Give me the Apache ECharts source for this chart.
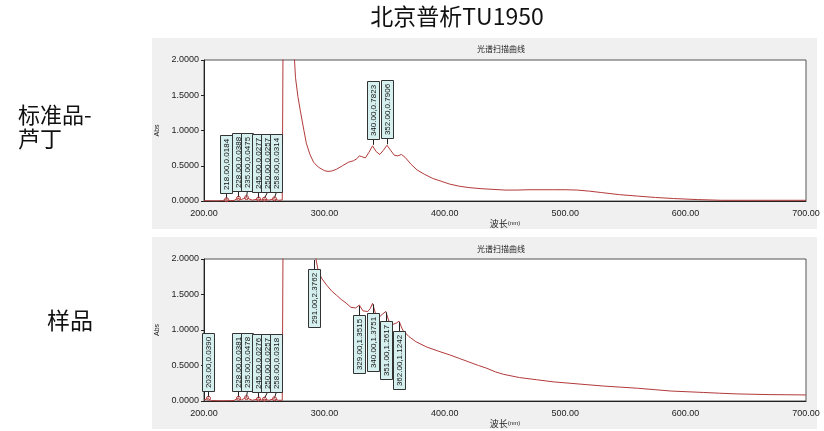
<!DOCTYPE html>
<html>
<head>
<meta charset="utf-8">
<script src="https://cdn.jsdelivr.net/npm/echarts@6/dist/echarts.min.js"></script>
<style>
  html, body { margin: 0; padding: 0; background: #fff; }
  #main { width: 824px; height: 431px; }
</style>
</head>
<body>
<div id="main"></div>
<script>
// standard (rutin) scan: wavelength (nm) / Abs
const stdX = [200, 210, 215, 218, 222, 225, 228, 231, 235, 240, 245, 248, 250, 254, 258, 262, 265,
  266, 272, 274.5, 276, 278, 280, 283, 285, 288, 291, 295, 300, 303, 306, 310, 315, 320, 324, 327,
  329, 331, 334, 337, 340, 343, 346, 349, 352, 355, 358, 361, 364, 367, 372, 377, 383, 390, 397,
  404, 412, 420, 430, 440, 450, 460, 470, 480, 490, 500, 510, 520, 530, 545, 560, 575, 590, 610,
  630, 650, 670, 700]
const stdY = [0.004, 0.002, 0.004, 0.0184, 0.006, 0.008, 0.0388, 0.02, 0.0475, 0.012, 0.0277, 0.014, 0.0257, 0.012, 0.0314, 0.01, 0.015,
  3.5, 3.2, 2.2, 1.75, 1.48, 1.28, 1.0, 0.82, 0.66, 0.55, 0.48, 0.43, 0.42, 0.425, 0.45, 0.5, 0.55, 0.57, 0.6,
  0.64, 0.63, 0.61, 0.69, 0.7823, 0.7, 0.66, 0.72, 0.7906, 0.72, 0.65, 0.64, 0.66, 0.62, 0.52, 0.44, 0.38, 0.32, 0.28,
  0.24, 0.21, 0.19, 0.175, 0.165, 0.155, 0.155, 0.16, 0.16, 0.16, 0.16, 0.155, 0.14, 0.12, 0.09, 0.07, 0.05, 0.035, 0.02,
  0.01, 0.01, 0.01, 0.01]

// sample scan
const sampleX = [200, 203, 206, 215, 222, 225, 228, 231, 235, 240, 245, 248, 250, 254, 258, 262, 265,
  266, 280, 291, 293, 295, 298, 302, 306, 310, 314, 318, 322, 326, 329, 332, 336, 338, 340, 343, 346,
  348, 351, 354, 357, 360, 362, 365, 370, 376, 385, 395, 404, 412, 420, 428, 435, 442, 449, 462, 476,
  490, 504, 518, 532, 546, 560, 574, 588, 602, 615, 628, 642, 656, 670, 685, 700]
const sampleY = [0.01, 0.039, 0.006, 0.003, 0.005, 0.008, 0.0381, 0.015, 0.0478, 0.01, 0.0276, 0.012, 0.0257, 0.01, 0.0318, 0.01, 0.01,
  3.5, 2.8, 2.3762, 2.0, 1.82, 1.72, 1.63, 1.55, 1.49, 1.43, 1.38, 1.32, 1.31, 1.3515, 1.27, 1.26, 1.3, 1.3751, 1.2, 1.19,
  1.22, 1.2617, 1.1, 1.08, 1.1, 1.1242, 1.0, 0.91, 0.835, 0.76, 0.7, 0.65, 0.6, 0.55, 0.5, 0.46, 0.41, 0.375, 0.33, 0.3,
  0.27, 0.25, 0.23, 0.21, 0.195, 0.18, 0.16, 0.14, 0.13, 0.12, 0.11, 0.1, 0.095, 0.09, 0.088, 0.085]

// peak annotations
const stdPeakX = [218, 228, 235, 245, 250, 258, 340, 352]
const stdPeakY = [0.0184, 0.0388, 0.0475, 0.0277, 0.0257, 0.0314, 0.7823, 0.7906]
const samplePeakX = [203, 228, 235, 245, 250, 258, 291, 329, 340, 351, 362]
const samplePeakY = [0.039, 0.0381, 0.0478, 0.0276, 0.0257, 0.0318, 2.3762, 1.3515, 1.3751, 1.2617, 1.1242]

const pairs = (xs, ys) => xs.map((x, i) => [x, ys[i]])

const lineColor = '#b23a3a'
const smallFont = '"Liberation Sans", Arial, sans-serif'
const cjkFont = '"Noto Sans CJK SC", sans-serif'
const BOX_W = 12
const BOX_H = 58
const BOX_STEP = 9 // crowded labels get pushed right, overlapping a bit

function makePeakRenderer (xs, ys) {
  return function (params, api) {
    const cs = params.coordSys
    // lay boxes out left to right so crowded ones don't stack on top of each other
    let prev = -Infinity
    const lefts = xs.map((x, i) => {
      const c = api.coord([x, ys[i]])[0]
      const l = Math.max(c - BOX_W / 2, prev + BOX_STEP)
      prev = l
      return l
    })
    const i = params.dataIndex
    const p = api.coord([api.value(0), api.value(1)])
    const px = Math.round(p[0]) + 0.5
    const py = Math.max(p[1], cs.y)
    const left = Math.round(lefts[i]) + 0.5
    const bx = left + BOX_W / 2
    let top, y1, y2
    if (py - 7 - BOX_H < cs.y) {
      // no room above: hang the box below the point
      top = py + 10
      y1 = top
      y2 = py + 1
    } else {
      top = py - 7 - BOX_H
      y1 = top + BOX_H
      y2 = py - 1
    }
    top = Math.round(top) + 0.5
    const label = api.value(0).toFixed(2) + ',' + api.value(1).toFixed(4)
    const children = [
      { type: 'line', shape: { x1: bx, y1: y1, x2: px, y2: y2 }, style: { stroke: '#222', lineWidth: 1 } },
      { type: 'rect', shape: { x: left, y: top, width: BOX_W, height: BOX_H }, style: { fill: '#d6f0ef', stroke: '#333', lineWidth: 1 } },
      {
        type: 'text',
        x: bx,
        y: top + BOX_H / 2,
        rotation: Math.PI / 2,
        style: { text: label, align: 'center', verticalAlign: 'middle', fontSize: 8, fontFamily: smallFont, fill: '#111' }
      }
    ]
    if (api.value(1) < 0.1) {
      children.push({ type: 'circle', shape: { cx: px, cy: py, r: 2 }, style: { fill: 'none', stroke: lineColor, lineWidth: 1 } })
    }
    return { type: 'group', children: children }
  }
}

function xAxisOf (gridIndex) {
  return {
    type: 'value',
    gridIndex: gridIndex,
    min: 200,
    max: 700,
    interval: 100,
    name: '波长{s|(nm)}',
    nameLocation: 'middle',
    nameGap: 17,
    nameTextStyle: { fontSize: 9, fontFamily: cjkFont, color: '#222', rich: { s: { fontSize: 6, fontFamily: smallFont, color: '#222' } } },
    axisLine: { show: true, lineStyle: { color: '#222', width: 1 } },
    axisTick: { show: false },
    splitLine: { show: false },
    axisLabel: { fontSize: 9, fontFamily: smallFont, color: '#222', margin: 8, formatter: v => v.toFixed(2) }
  }
}

function yAxisOf (gridIndex) {
  return {
    type: 'value',
    gridIndex: gridIndex,
    min: 0,
    max: 2,
    interval: 0.5,
    name: 'Abs',
    nameLocation: 'middle',
    nameRotate: 90,
    nameGap: 28,
    nameTextStyle: { fontSize: 7, fontFamily: smallFont, color: '#222' },
    axisLine: { show: true, lineStyle: { color: '#222', width: 1 } },
    axisTick: { show: true, length: 3, lineStyle: { color: '#222' } },
    splitLine: { show: false },
    axisLabel: { fontSize: 9, fontFamily: smallFont, color: '#222', margin: 5, formatter: v => v.toFixed(4) }
  }
}

const chart = echarts.init(document.getElementById('main'), null, { renderer: 'canvas' })
chart.setOption({
  animation: false,
  backgroundColor: '#fff',
  title: [
    { text: '北京普析TU1950', left: 457, top: 5, padding: 0, textAlign: 'center', textStyle: { fontSize: 23, fontWeight: 'normal', fontFamily: cjkFont, color: '#111' } },
    { text: '光谱扫描曲线', left: 501, top: 45, padding: 0, textAlign: 'center', textStyle: { fontSize: 8, fontWeight: 'normal', fontFamily: cjkFont, color: '#222' } },
    { text: '光谱扫描曲线', left: 501, top: 245, padding: 0, textAlign: 'center', textStyle: { fontSize: 8, fontWeight: 'normal', fontFamily: cjkFont, color: '#222' } },
    { text: '标准品-\n芦丁', left: 18, top: 103, padding: 0, textStyle: { fontSize: 22, lineHeight: 24, fontWeight: 'normal', fontFamily: cjkFont, color: '#111' } },
    { text: '样品', left: 47, top: 308, padding: 0, textStyle: { fontSize: 23, lineHeight: 24, fontWeight: 'normal', fontFamily: cjkFont, color: '#111' } }
  ],
  graphic: [
    { type: 'rect', z: -10, shape: { x: 152, y: 38, width: 665, height: 191 }, style: { fill: '#f0f0f0' } },
    { type: 'rect', z: -10, shape: { x: 152, y: 237, width: 665, height: 192 }, style: { fill: '#f0f0f0' } }
  ],
  grid: [
    { left: 204, right: 18, top: 60, height: 141, show: true, backgroundColor: '#fff', borderColor: '#555', borderWidth: 1 },
    { left: 204, right: 18, top: 259, height: 142, show: true, backgroundColor: '#fff', borderColor: '#555', borderWidth: 1 }
  ],
  xAxis: [xAxisOf(0), xAxisOf(1)],
  yAxis: [yAxisOf(0), yAxisOf(1)],
  series: [
    {
      type: 'line', xAxisIndex: 0, yAxisIndex: 0, data: pairs(stdX, stdY),
      showSymbol: false, clip: true, silent: true, lineStyle: { color: lineColor, width: 1 }
    },
    {
      type: 'line', xAxisIndex: 1, yAxisIndex: 1, data: pairs(sampleX, sampleY),
      showSymbol: false, clip: true, silent: true, lineStyle: { color: lineColor, width: 1 }
    },
    {
      type: 'custom', xAxisIndex: 0, yAxisIndex: 0, data: pairs(stdPeakX, stdPeakY),
      encode: { x: 0, y: 1 }, renderItem: makePeakRenderer(stdPeakX, stdPeakY), silent: true, clip: false, z: 5
    },
    {
      type: 'custom', xAxisIndex: 1, yAxisIndex: 1, data: pairs(samplePeakX, samplePeakY),
      encode: { x: 0, y: 1 }, renderItem: makePeakRenderer(samplePeakX, samplePeakY), silent: true, clip: false, z: 5
    }
  ]
})
</script>
</body>
</html>
